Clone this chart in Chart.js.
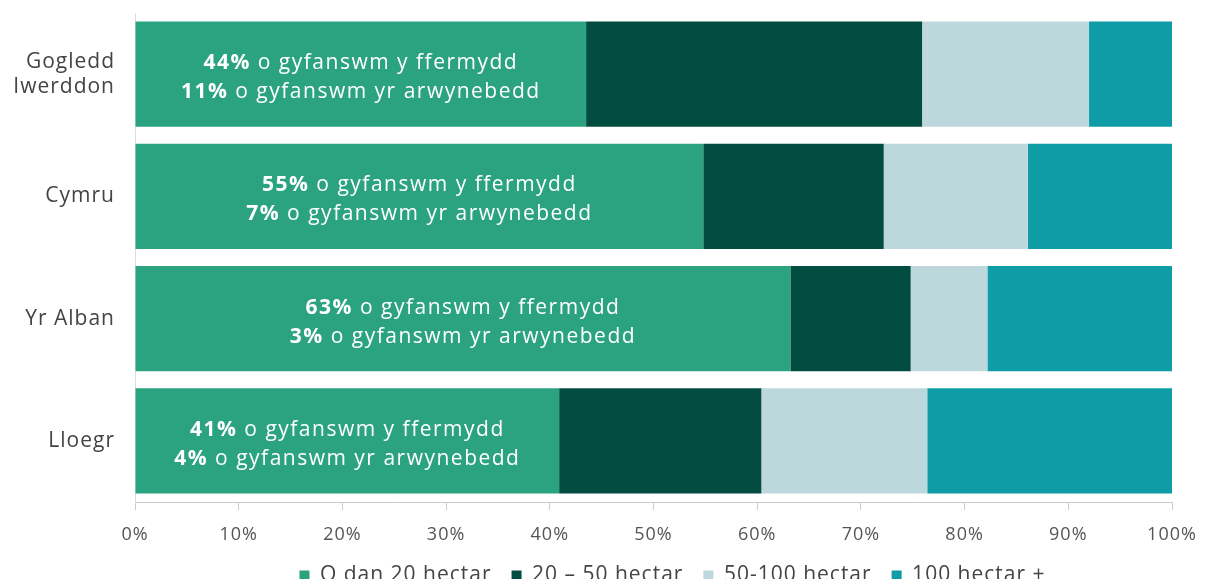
<!DOCTYPE html>
<html>
<head>
<meta charset="utf-8">
<script src="https://cdn.jsdelivr.net/npm/chart.js@4"></script>
<style>
  body { margin: 0; background: #fff; }
  #wrap { width: 1212px; height: 579px; }
</style>
</head>
<body>
<div id="wrap"><canvas id="farm-chart" width="1212" height="579"></canvas></div>
<script>
// data (share of holdings by size, %)
let countries = [['Gogledd', 'Iwerddon'], 'Cymru', 'Yr Alban', 'Lloegr']
let under20 = [43.5, 54.8, 63.2, 40.9]
let from20to50 = [32.4, 17.4, 11.6, 19.5]
let from50to100 = [16.1, 13.9, 7.4, 16.0]
let over100 = [8.0, 13.9, 17.8, 23.6]
let farmShare = ['44%', '55%', '63%', '41%']
let areaShare = ['11%', '7%', '3%', '4%']
let seriesNames = ['O dan 20 hectar', '20 – 50 hectar', '50-100 hectar', '100 hectar +']
let seriesColors = ['#2ca380', '#034c40', '#bdd8dc', '#0e9ca6']

let fontFamily = '"Open Sans", sans-serif'

// the original uses a wide font, so open the letters up a little
let spacing = {
    id: 'spacing',
    beforeUpdate(chart) { chart.ctx.letterSpacing = '1px' },
    beforeDraw(chart) { chart.ctx.letterSpacing = '1px' },
    afterLayout(chart) {
        // legend sits a bit right of the plot centre in the original
        chart.legend.left += 19
        chart.legend.right += 19
    }
}

// two-line label inside the first segment, percentage in bold
let innerLabels = {
    id: 'innerLabels',
    afterDatasetsDraw(chart) {
        let ctx = chart.ctx
        let meta = chart.getDatasetMeta(0)
        ctx.save()
        ctx.letterSpacing = '1.5px'
        ctx.fillStyle = '#ffffff'
        ctx.textBaseline = 'middle'
        ctx.textAlign = 'left'
        meta.data.forEach(function (bar, i) {
            let cx = (bar.x + bar.base) / 2
            let lines = [
                [farmShare[i], ' o gyfanswm y ffermydd'],
                [areaShare[i], ' o gyfanswm yr arwynebedd']
            ]
            lines.forEach(function (parts, j) {
                let y = bar.y + (j === 0 ? -11 : 18)
                ctx.font = 'bold 21px ' + fontFamily
                let w1 = ctx.measureText(parts[0]).width
                ctx.font = '21px ' + fontFamily
                let w2 = ctx.measureText(parts[1]).width
                let x0 = cx - (w1 + w2) / 2
                ctx.font = 'bold 21px ' + fontFamily
                ctx.fillText(parts[0], x0, y)
                ctx.font = '21px ' + fontFamily
                ctx.fillText(parts[1], x0 + w1, y)
            })
        })
        ctx.restore()
    }
}

let seriesData = [under20, from20to50, from50to100, over100]
let datasets = seriesData.map(function (values, i) {
    return {
        label: seriesNames[i],
        data: values,
        backgroundColor: seriesColors[i],
        borderWidth: 0,
        barPercentage: 0.95,
        categoryPercentage: 0.905
    }
})

let context = document.querySelector('#farm-chart').getContext('2d')
let farmChart = new Chart(context, {
    type: 'bar',
    data: {
        labels: countries,
        datasets: datasets
    },
    options: {
        indexAxis: 'y',
        responsive: false,
        animation: false,
        layout: { padding: { top: 13, right: 40, left: 0, bottom: -17 } },
        scales: {
            x: {
                stacked: true,
                min: 0,
                max: 100,
                ticks: {
                    stepSize: 10,
                    color: '#555',
                    font: { family: fontFamily, size: 18 },
                    padding: 14,
                    callback: function (v) { return v + '%' }
                },
                grid: { drawOnChartArea: false, drawTicks: true, tickLength: 8, color: '#ccc' },
                border: { color: '#ccc' },
                afterFit: function (scale) {
                    scale.height = 43
                    scale.paddingLeft = 0
                    scale.paddingRight = 0
                }
            },
            y: {
                stacked: true,
                ticks: {
                    color: '#444',
                    font: { family: fontFamily, size: 21 },
                    padding: 12
                },
                grid: { display: false },
                border: { color: '#ddd' },
                afterFit: function (scale) {
                    scale.width = 135
                    scale.paddingTop = 0
                    scale.paddingBottom = 0
                }
            }
        },
        plugins: {
            legend: {
                position: 'bottom',
                fullSize: false,
                labels: {
                    color: '#444',
                    font: { family: fontFamily, size: 21 },
                    boxWidth: 10,
                    boxHeight: 10,
                    padding: 20
                }
            },
            tooltip: { enabled: false }
        }
    },
    plugins: [spacing, innerLabels]
})
</script>
</body>
</html>
